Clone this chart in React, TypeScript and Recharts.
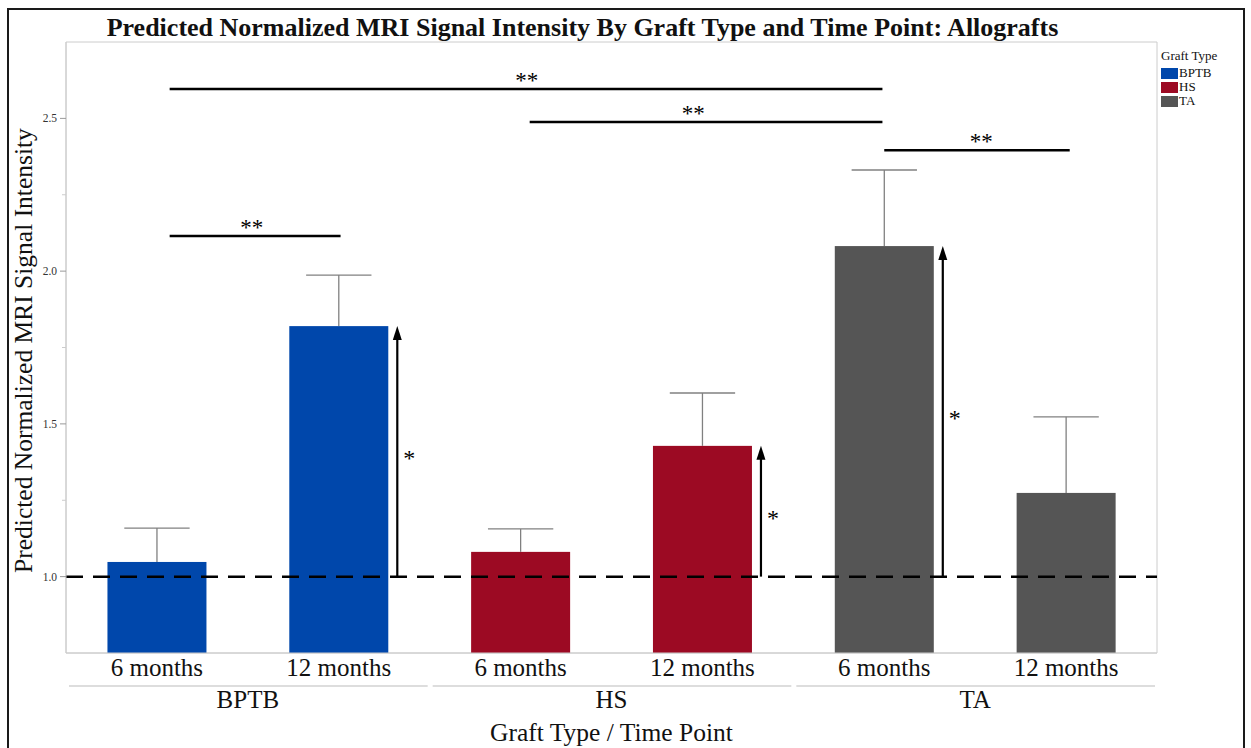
import React from 'react';
import { BarChart, Bar, XAxis, YAxis, CartesianGrid, ReferenceLine, Legend, Cell, Label } from 'recharts';

const graftTypes = ['BPTB', 'HS', 'TA'];
const graftColors = ['#0047AB', '#9C0A23', '#555555'];
const groups = ['BPTB', 'BPTB', 'HS', 'HS', 'TA', 'TA'];
const timePoints = ['6 months', '12 months', '6 months', '12 months', '6 months', '12 months'];
const slots = [0.5, 1.5, 2.5, 3.5, 4.5, 5.5];
const predicted = [1.048, 1.82, 1.081, 1.428, 2.082, 1.274];
const upperLimit = [1.159, 1.987, 1.156, 1.601, 2.331, 1.523];
const significantChange = [false, true, false, true, true, false];
const changeLabel = '*';
const referenceValue = 1.0;
const yDomain = [0.75, 2.75];
const yMajorTicks = [1.0, 1.5, 2.0, 2.5];
const yMinorTicks = [1.25, 1.75, 2.25];
const bracketFrom = [0.57, 2.55, 4.5, 0.57];
const bracketTo = [4.49, 4.49, 5.52, 1.51];
const bracketLevel = [2.596, 2.488, 2.396, 2.115];
const bracketLabelAt = [2.534, 3.449, 5.033, 1.021];
const bracketLabel = ['**', '**', '**', '**'];

const SERIF = '"Liberation Serif", "Times New Roman", serif';

const tableData = groups.map((g, i) => ({
  key: `${g} ${timePoints[i]}`,
  group: g,
  time: timePoints[i],
  slot: slots[i],
  predicted: predicted[i],
  upper: upperLimit[i],
  change: significantChange[i],
}));

const allYTicks = [...yMinorTicks, ...yMajorTicks].sort((a, b) => a - b);

const BarShape = (props: any) => {
  const { x, y, width, height, fill, payload } = props;
  const pxPerUnit = height / (payload.predicted - yDomain[0]);
  const cx = x + width / 2;
  const whiskerY = y - (payload.upper - payload.predicted) * pxPerUnit;
  const capHalf = width * 0.33;
  const els: any[] = [
    <rect key="r" x={x} y={y} width={width} height={height} fill={fill} />,
    <line key="v" x1={cx} x2={cx} y1={y} y2={whiskerY} stroke="#808080" strokeWidth={1.3} />,
    <line key="c" x1={cx - capHalf} x2={cx + capHalf} y1={whiskerY} y2={whiskerY} stroke="#808080" strokeWidth={1.3} />,
  ];
  if (payload.change) {
    const ax = x + width + 9;
    const refY = y + height - (referenceValue - yDomain[0]) * pxPerUnit;
    els.push(<line key="a" x1={ax} x2={ax} y1={refY} y2={y + 10} stroke="#000" strokeWidth={2.2} />);
    els.push(<polygon key="h" points={`${ax},${y} ${ax - 4.5},${y + 14} ${ax + 4.5},${y + 14}`} fill="#000" />);
    els.push(
      <text key="t" x={ax + 6} y={(refY + y) / 2 + 15} fontSize={24} fontFamily={SERIF} fill="#000">
        {changeLabel}
      </text>
    );
  }
  return <g>{els}</g>;
};

const TimeTick = (props: any) => {
  const { x, y, index } = props;
  return (
    <text x={x} y={y + 23} textAnchor="middle" fontSize={25} fontFamily={SERIF} fill="#111">
      {timePoints[index]}
    </text>
  );
};

const GroupTick = (props: any) => {
  const { x, y, payload, width, visibleTicksCount } = props;
  const half = payload && payload.offset ? payload.offset : width / visibleTicksCount / 2;
  return (
    <g>
      <line x1={x - half + 3} x2={x + half - 2} y1={y + 3} y2={y + 3} stroke="#bbb" strokeWidth={1.2} />
      <text x={x} y={y + 25} textAnchor="middle" fontSize={25} fontFamily={SERIF} fill="#111">
        {payload.value}
      </text>
    </g>
  );
};

const YTick = (props: any) => {
  const { x, y, payload } = props;
  const major = yMajorTicks.includes(payload.value);
  return (
    <g>
      <line x1={x - (major ? 6 : 4)} x2={x} y1={y} y2={y} stroke={major ? '#999' : '#ccc'} strokeWidth={1} />
      {major && (
        <text x={x - 9} y={y} dy="0.35em" textAnchor="end" fontSize={11.5} fontFamily={SERIF} fill="#333">
          {payload.value.toFixed(1)}
        </text>
      )}
    </g>
  );
};

const YTitle = (props: any) => {
  const { viewBox } = props;
  const cx = viewBox.x + 32;
  const cy = viewBox.y + viewBox.height / 2 + 3;
  return (
    <text x={cx} y={cy} transform={`rotate(-90, ${cx}, ${cy})`} textAnchor="middle" fontSize={25.5} fontFamily={SERIF} fill="#111">
      Predicted Normalized MRI Signal Intensity
    </text>
  );
};

const XTitle = (props: any) => {
  const { viewBox } = props;
  return (
    <text x={viewBox.x + viewBox.width / 2} y={viewBox.y + viewBox.height + 23} textAnchor="middle" fontSize={25.5} fontFamily={SERIF} fill="#111">
      Graft Type / Time Point
    </text>
  );
};

const BracketShape = (props: any) => {
  const { x1, y1, x2, y2, text, from, to, at } = props;
  const lx = x1 + ((at - from) / (to - from)) * (x2 - x1);
  return (
    <g>
      <line x1={x1} y1={y1} x2={x2} y2={y2} stroke="#000" strokeWidth={2.5} />
      <text x={lx} y={y1 - 1} textAnchor="middle" fontSize={23} fontFamily={SERIF} fill="#000">
        {text}
      </text>
    </g>
  );
};

const LegendContent = () => (
  <div style={{ fontFamily: SERIF, color: '#111', fontSize: 13 }}>
    <div style={{ lineHeight: '15px', height: 15 }}>Graft Type</div>
    <div style={{ height: 3 }} />
    {graftTypes.map((g, i) => (
      <div key={g} style={{ display: 'flex', alignItems: 'center', height: 14, lineHeight: '14px' }}>
        <span style={{ width: 17, height: 11, background: graftColors[i], display: 'inline-block', marginRight: 1 }} />
        <span>{g}</span>
      </div>
    ))}
  </div>
);

export default function App() {
  return (
    <div style={{ position: 'absolute', left: 0, top: 0, width: 1251, height: 748, background: '#fff', overflow: 'hidden' }}>
      <div style={{ position: 'absolute', left: 7, top: 8, width: 1234, height: 760, border: '2.5px solid #1a1a1a' }} />
      <div
        style={{
          position: 'absolute', left: 0, top: 13, width: 1165, textAlign: 'center',
          fontFamily: SERIF, fontWeight: 'bold', fontSize: 26, lineHeight: '30px', color: '#111',
        }}
      >
        Predicted Normalized MRI Signal Intensity By Graft Type and Time Point: Allografts
      </div>
      <div style={{ position: 'absolute', left: 0, top: 0 }}>
        <BarChart
          width={1251}
          height={748}
          data={tableData}
          margin={{ top: 42, right: 94, bottom: 30, left: 0 }}
          barCategoryGap="22.8%"
        >
          <CartesianGrid
            stroke="#ccc"
            horizontalCoordinatesGenerator={(p: any) => [p.offset.top, p.offset.top + p.offset.height]}
            verticalCoordinatesGenerator={(p: any) => [p.offset.left, p.offset.left + p.offset.width]}
          />
          <XAxis
            dataKey="key"
            tick={<TimeTick />}
            tickLine={false}
            axisLine={{ stroke: '#ccc' }}
            height={30}
            tickSize={0}
            tickMargin={0}
            interval={0}
          />
          <XAxis
            xAxisId="group"
            dataKey="group"
            allowDuplicatedCategory={false}
            tick={<GroupTick />}
            tickLine={false}
            axisLine={false}
            height={35}
            tickSize={0}
            tickMargin={0}
            interval={0}
          >
            <Label content={<XTitle />} />
          </XAxis>
          <XAxis xAxisId="pos" dataKey="slot" type="number" domain={[0, 6]} allowDataOverflow hide />
          <YAxis
            type="number"
            domain={yDomain}
            allowDataOverflow
            ticks={allYTicks}
            tick={<YTick />}
            tickLine={false}
            axisLine={{ stroke: '#ccc' }}
            width={66}
            tickSize={0}
            tickMargin={0}
            interval={0}
          >
            <Label content={<YTitle />} />
          </YAxis>
          <Legend
            layout="vertical"
            align="center"
            verticalAlign="middle"
            content={<LegendContent />}
            wrapperStyle={{ left: 1161, top: 48, width: 'auto' }}
          />
          <Bar dataKey="predicted" isAnimationActive={false} shape={<BarShape />}>
            {tableData.map((d, i) => (
              <Cell key={d.key} fill={graftColors[graftTypes.indexOf(d.group)]} />
            ))}
          </Bar>
          <ReferenceLine y={referenceValue} stroke="#000" strokeWidth={2.5} strokeDasharray="17 10" />
          {bracketLevel.map((lvl, i) => (
            <ReferenceLine
              key={`br${i}`}
              xAxisId="pos"
              ifOverflow="visible"
              segment={[{ x: bracketFrom[i], y: lvl }, { x: bracketTo[i], y: lvl }]}
              shape={(p: any) => (
                <BracketShape
                  {...p}
                  text={bracketLabel[i]}
                  from={bracketFrom[i]}
                  to={bracketTo[i]}
                  at={bracketLabelAt[i]}
                />
              )}
            />
          ))}
        </BarChart>
      </div>
    </div>
  );
}
